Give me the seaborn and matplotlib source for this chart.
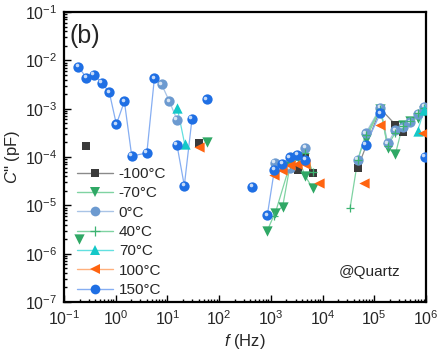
import numpy as np
import pandas as pd
import matplotlib
matplotlib.use("Agg")
import matplotlib.pyplot as plt
import seaborn as sns
from matplotlib.lines import Line2D
from matplotlib.transforms import offset_copy
from matplotlib.ticker import FixedLocator, NullFormatter

nan = np.nan

# ---- data (NaN separates unconnected pieces) ----
labels = ["-100°C", "-70°C", "0°C", "40°C", "70°C", "100°C", "150°C"]

f_m100 = [0.27, nan, 40.8, nan, 3300, 4630, 6440, nan, 47900, 1.31e5, 2.55e5, 3.55e5]
c_m100 = [1.71e-4, nan, 1.98e-4, nan, 5.4e-5, 9.9e-5, 4.7e-5, nan, 6.0e-5, 1.0e-3, 4.7e-4, 3.3e-4]

f_m70 = [0.195, nan, 59, nan, 855, 1200, 1690, 2340, 3300, 4640, 6440, nan,
         68400, 1.31e5, 1.82e5, 2.55e5, 3.55e5, 5.0e5, 7.1e5, 9.2e5]
c_m70 = [1.98e-6, nan, 2.0e-4, nan, 3.0e-6, 7.0e-6, 9.4e-6, 6.5e-5, 1.0e-4, 4.0e-5, 2.25e-5, nan,
         2.36e-4, 1.0e-3, 1.56e-4, 1.14e-4, 4.5e-4, 5.5e-4, 6.5e-4, 9.0e-4]

f_0 = [7.7, 10.9, 15.3, nan, 1190, 2340, 4640, nan,
       47900, 68400, 1.31e5, 1.82e5, 2.55e5, 3.55e5, 4.98e5, 7.1e5, 9.2e5]
c_0 = [3.2e-3, 1.42e-3, 5.9e-4, nan, 7.6e-5, 5.8e-5, 1.56e-4, nan,
       8.7e-5, 3.1e-4, 1.05e-3, 1.92e-4, 3.6e-4, 4.1e-4, 5.2e-4, 7.8e-4, 1.1e-3]

f_40 = [1170, 2340, 3300, 4640, 6440, nan,
        34000, 47900, 68400, 1.31e5, 1.82e5, 2.55e5, 3.55e5, 5.0e5, 7.1e5, 9.2e5]
c_40 = [6.0e-6, 7.0e-5, 9.0e-5, 1.2e-4, 5.0e-5, nan,
        8.7e-6, 8.7e-5, 2.8e-4, 1.0e-3, 1.7e-4, 3.2e-4, 4.3e-4, 5.6e-4, 8.0e-4, 1.05e-3]

f_70 = [15.5, 21.6, nan, 6.9e5, 9.2e5]
c_70 = [1.05e-3, 1.83e-4, nan, 3.5e-4, 9.3e-4]

f_100 = [40.8, nan, 1170, 1620, 2340, 3160, 4640, nan, 8650, nan, 64000, nan, 1.29e5, nan, 8.9e5]
c_100 = [1.58e-4, nan, 4.2e-5, 5.4e-5, 6.8e-5, 7.2e-5, 7.2e-5, nan, 2.85e-5, nan, 2.9e-5, nan, 4.7e-4, nan, 3.2e-4]

f_150 = [0.19, 0.27, 0.38, 0.54, 0.75, 1.03, 1.47, 2.04, 4.0, 5.6, nan,
         15.3, 21.2, 29.9, nan, 58.2, nan, 438, nan,
         855, 1170, 1670, 2340, 3250, 4640, nan, 68000, 1.31e5, nan, 9.5e5]
c_150 = [7.3e-3, 4.4e-3, 5.0e-3, 3.4e-3, 2.2e-3, 4.75e-4, 1.42e-3, 1.05e-4, 1.21e-4, 4.3e-3, nan,
         1.77e-4, 2.55e-5, 6.2e-4, nan, 1.58e-3, nan, 2.4e-5, nan,
         6.3e-6, 5.4e-5, 7.3e-5, 9.9e-5, 1.1e-4, 8.7e-5, nan, 1.77e-4, 8.0e-4, nan, 1.0e-4]

x_ticks = [1e-1, 1e0, 1e1, 1e2, 1e3, 1e4, 1e5, 1e6]
y_ticks = [1e-7, 1e-6, 1e-5, 1e-4, 1e-3, 1e-2, 1e-1]

series_f = [f_m100, f_m70, f_0, f_40, f_70, f_100, f_150]
series_c = [c_m100, c_m70, c_0, c_40, c_70, c_100, c_150]

# ---- styles ----
marker_colors = ["#3a3a3a", "#2fa865", "#6c9ad0", "#3cb371", "#14c8c8", "#ff6410", "#1f6fe4"]
line_colors = ["#8a8a8a", "#7fd3a2", "#a9c4e6", "#7fd3a2", "#62e0e0", "#ffb07c", "#86aef2"]
markers = ["s", "v", "o", "+", "^", "<", "o"]
sizes = [36, 55, 55, 40, 55, 55, 55]
sphere = [False, False, True, False, False, False, True]

rows = []
for lab, fs, cs in zip(labels, series_f, series_c):
    seg = 0
    for fv, cv in zip(fs, cs):
        if np.isnan(fv):
            seg += 1
            continue
        rows.append((lab, seg, fv, cv))
df = pd.DataFrame(rows, columns=["T", "seg", "f", "C"])

sns.set_style("ticks")
plt.rcParams["font.family"] = ["Liberation Sans", "DejaVu Sans"]
plt.rcParams["mathtext.fontset"] = "custom"
plt.rcParams["mathtext.rm"] = "Liberation Sans"
plt.rcParams["mathtext.it"] = "Liberation Sans:italic"
plt.rcParams["mathtext.default"] = "regular"

fig = plt.figure(figsize=(4.42, 3.60), dpi=100)
ax = fig.add_axes([64 / 442, 1 - 302 / 360, (426 - 64) / 442, (302 - 12) / 360])

sns.lineplot(data=df, x="f", y="C", hue="T", units="seg", estimator=None, sort=False,
             palette=dict(zip(labels, line_colors)), hue_order=labels,
             lw=0.9, legend=False, ax=ax, zorder=2)

for i, lab in enumerate(labels):
    sub = df[df["T"] == lab]
    if markers[i] == "+":
        sns.scatterplot(x=sub["f"], y=sub["C"], marker="+", color=marker_colors[i],
                        s=sizes[i], linewidth=0.9, ax=ax, legend=False, zorder=3 + i)
    else:
        sns.scatterplot(x=sub["f"], y=sub["C"], marker=markers[i], color=marker_colors[i],
                        s=sizes[i], linewidth=0, ax=ax, legend=False, zorder=3 + i)
    if sphere[i]:
        tr = offset_copy(ax.transData, fig=fig, x=-1.1, y=1.1, units="points")
        ax.plot(sub["f"], sub["C"], "o", ms=2.6, color="white", alpha=0.75, mew=0,
                transform=tr, zorder=3 + i + 0.5)

ax.set_xscale("log")
ax.set_yscale("log")
ax.set_xlim(0.1, 1e6)
ax.set_ylim(1e-7, 1e-1)

ax.xaxis.set_major_locator(FixedLocator(x_ticks))
ax.yaxis.set_major_locator(FixedLocator(y_ticks))
ax.xaxis.set_minor_locator(FixedLocator([m * 10.0 ** k for k in range(-1, 6) for m in range(2, 10)]))
ax.yaxis.set_minor_locator(FixedLocator([m * 10.0 ** k for k in range(-7, -1) for m in range(2, 10)]))
ax.xaxis.set_minor_formatter(NullFormatter())
ax.yaxis.set_minor_formatter(NullFormatter())

ax.tick_params(which="both", direction="in", top=False, right=False, labelsize=11.5,
               width=1.0, color="black")
ax.tick_params(which="major", length=5, pad=5)
ax.tick_params(which="minor", length=2.5)
for sp in ax.spines.values():
    sp.set_linewidth(1.6)
    sp.set_color("black")

ax.set_xlabel(r"$\mathit{f}$ (Hz)", fontsize=12, labelpad=3)
ax.set_ylabel(r"$\mathit{C}$'' (pF)", fontsize=12, labelpad=2)

ax.text(0.015, 0.96, "(b)", transform=ax.transAxes, fontsize=18, ha="left", va="top")
ax.text(370 / 442, 1 - 272 / 360, "@Quartz", transform=fig.transFigure, fontsize=11,
        ha="center", va="center")

handles = []
for i, lab in enumerate(labels):
    if markers[i] == "+":
        h = Line2D([0], [0], color=line_colors[i], lw=1, marker="+", markersize=7,
                   markeredgecolor=marker_colors[i], markeredgewidth=0.9)
    else:
        h = Line2D([0], [0], color=line_colors[i], lw=1, marker=markers[i],
                   markersize=7 if markers[i] != "s" else 6,
                   markerfacecolor=marker_colors[i], markeredgewidth=0)
    handles.append(h)
ax.legend(handles, labels, loc="lower left", bbox_to_anchor=(0.01, -0.015), frameon=False,
          fontsize=11, handlelength=2.4, handletextpad=0.35, labelspacing=0.35,
          borderpad=0.3, borderaxespad=0.3)

fig.savefig("out.png", dpi=100)
